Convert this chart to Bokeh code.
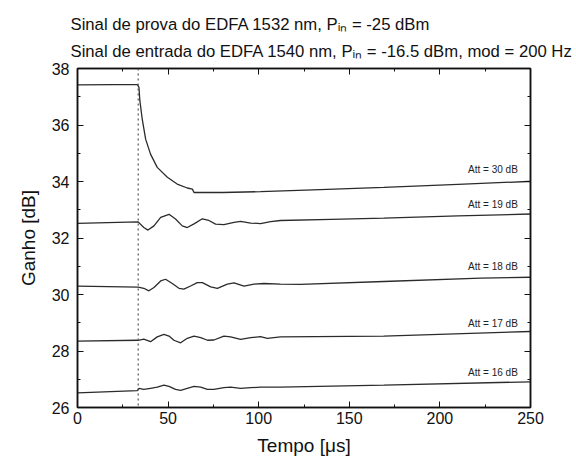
from bokeh.plotting import figure
from bokeh.models import LinearAxis, Span, Range1d, ColumnDataSource, FixedTicker, Title
from bokeh.core.properties import value
from bokeh.embed import file_html
from bokeh.resources import INLINE

# ---------------- data ----------------
t_att30 = [0, 20, 33, 33.9, 34.4, 35.7, 37.6, 40.3, 44.0, 49.6, 55.0, 60.6, 63.4, 64.3, 80, 101, 130, 169, 210, 248.5, 250]
g_att30 = [37.42, 37.43, 37.43, 37.34, 36.87, 36.22, 35.5, 34.97, 34.5, 34.15, 33.91, 33.77, 33.73, 33.61, 33.61, 33.64, 33.7, 33.79, 33.9, 34.0, 34.0]

t_att19 = [0, 33.5, 36.6, 38.9, 42.2, 45.9, 50.5, 54.1, 57.8, 60.6, 64.3, 68.9, 72.5, 76.2, 80.8, 86.4, 90, 95.6, 101, 106.6, 112, 140, 169, 210, 250]
g_att19 = [32.52, 32.57, 32.37, 32.28, 32.43, 32.73, 32.84, 32.67, 32.43, 32.37, 32.5, 32.68, 32.62, 32.49, 32.47, 32.55, 32.59, 32.53, 32.51, 32.58, 32.62, 32.66, 32.7, 32.78, 32.85]

t_att18 = [0, 33.5, 36.6, 39.4, 42.2, 45.9, 48.6, 52.3, 56.0, 58.7, 62.4, 66.1, 68.9, 73.5, 77.2, 82.7, 86.4, 91.9, 97.4, 102.9, 112, 123, 169, 222.6, 250]
g_att18 = [30.3, 30.26, 30.22, 30.13, 30.25, 30.48, 30.54, 30.39, 30.22, 30.19, 30.3, 30.42, 30.42, 30.27, 30.22, 30.37, 30.41, 30.3, 30.37, 30.39, 30.37, 30.36, 30.46, 30.58, 30.61]

t_att17 = [0, 33.5, 36.6, 40.3, 44, 47.7, 50.5, 53.2, 56.9, 60.6, 64.3, 68, 71.7, 75.3, 80.8, 84.5, 90, 95.6, 101, 104.8, 112, 169, 250]
g_att17 = [28.35, 28.38, 28.42, 28.33, 28.5, 28.59, 28.53, 28.38, 28.29, 28.45, 28.53, 28.47, 28.38, 28.39, 28.53, 28.5, 28.41, 28.47, 28.51, 28.45, 28.5, 28.53, 28.69]

t_att16 = [0, 33, 33.9, 36.6, 40.3, 44, 47.7, 50.5, 54.1, 56.9, 60.6, 64.3, 68, 71.7, 75.3, 80.8, 84.5, 90, 95.6, 101, 112, 169, 250]
g_att16 = [26.52, 26.6, 26.68, 26.64, 26.68, 26.72, 26.79, 26.75, 26.64, 26.61, 26.68, 26.75, 26.72, 26.64, 26.64, 26.7, 26.72, 26.68, 26.7, 26.72, 26.72, 26.79, 26.91]

att_labels = ["Att = 30 dB", "Att = 19 dB", "Att = 18 dB", "Att = 17 dB", "Att = 16 dB"]
att_label_t = [243, 243, 243, 243, 243]
att_label_g = [34.44, 33.2, 30.98, 28.97, 27.23]

t_switch = 33.5

x_ticks = [0, 50, 100, 150, 200, 250]
x_minor = [25, 75, 125, 175, 225]
y_ticks = [26, 28, 30, 32, 34, 36, 38]
y_minor = [27, 29, 31, 33, 35, 37]

title1 = "Sinal de prova do EDFA 1532 nm, Pᵢₙ = -25 dBm"
title2 = "Sinal de entrada do EDFA 1540 nm, Pᵢₙ = -16.5 dBm, mod = 200 Hz"

x_label = "Tempo [μs]"
y_label = "Ganho [dB]"

# ---------------- figure ----------------
FONT = "Liberation Sans"
W, H = 576, 470
L, R, T, B = 77, 46, 68, 63
x0, x1 = 0, 250
y0, y1 = 26, 38
INK = "#111111"

p = figure(width=W, height=H, output_backend="svg", toolbar_location=None,
           x_range=Range1d(x0, x1), y_range=Range1d(y0, y1),
           min_border_left=L, min_border_right=R, min_border_top=T, min_border_bottom=B)
p.title.visible = False
p.background_fill_color = "white"
p.border_fill_color = "white"
p.grid.visible = False
p.outline_line_color = INK
p.outline_line_width = 1.5

def style_axis(ax):
    ax.major_tick_in = 6
    ax.major_tick_out = 0
    ax.minor_tick_in = 3
    ax.minor_tick_out = 0
    ax.axis_line_color = INK
    ax.axis_line_width = 1.5
    ax.major_tick_line_color = INK
    ax.minor_tick_line_color = INK

for ax in (p.xaxis[0], p.yaxis[0]):
    style_axis(ax)
    ax.major_label_text_font = FONT
    ax.major_label_text_font_size = "16px"
    ax.major_label_text_color = INK
    ax.axis_label_text_font = FONT
    ax.axis_label_text_font_size = "19px"
    ax.axis_label_text_font_style = "normal"
    ax.axis_label_text_color = INK

p.xaxis[0].ticker = FixedTicker(ticks=x_ticks, minor_ticks=x_minor)
p.yaxis[0].ticker = FixedTicker(ticks=y_ticks, minor_ticks=y_minor)
p.xaxis.axis_label = x_label
p.yaxis.axis_label = y_label
p.xaxis.major_label_standoff = 4
p.yaxis.major_label_standoff = 8
p.xaxis.axis_label_standoff = 8
p.yaxis.axis_label_standoff = 10

# mirrored axes (ticks only, no labels)
ax_r = LinearAxis(ticker=FixedTicker(ticks=y_ticks, minor_ticks=y_minor))
ax_t = LinearAxis(ticker=FixedTicker(ticks=x_ticks, minor_ticks=x_minor))
for ax, loc in ((ax_r, "right"), (ax_t, "above")):
    style_axis(ax)
    ax.major_label_text_font_size = "0px"
    ax.major_label_standoff = 0
    ax.major_label_text_alpha = 0
    p.add_layout(ax, loc)

# two-line title block
p.add_layout(Title(text=title1 + "\n" + title2, align="left", offset=-7, standoff=14,
                   text_font=FONT, text_font_size="16.7px", text_font_style="normal",
                   text_line_height=1.44, text_color=INK), "above")

# dotted switching line
p.add_layout(Span(location=t_switch, dimension="height", line_color="#555555",
                  line_dash="2 3", line_width=1.2))

# curves
line_kw = dict(line_color="#2b2b2b", line_width=1.3)
p.line(t_att30, g_att30, **line_kw)
p.line(t_att19, g_att19, **line_kw)
p.line(t_att18, g_att18, **line_kw)
p.line(t_att17, g_att17, **line_kw)
p.line(t_att16, g_att16, **line_kw)

src = ColumnDataSource(dict(x=att_label_t, y=att_label_g, text=att_labels))
p.text(x="x", y="y", text="text", source=src, text_font=value(FONT),
       text_font_size="10px", text_align="right", text_baseline="middle",
       text_color="#222222")

open("out.html", "w").write(file_html(p, INLINE))
